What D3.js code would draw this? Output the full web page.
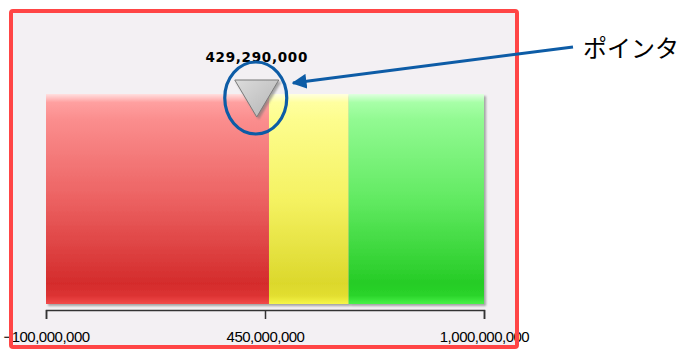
<!DOCTYPE html>
<html><head><meta charset="utf-8">
<script src="https://cdn.jsdelivr.net/npm/d3@7/dist/d3.min.js"></script>
<style>html,body{margin:0;padding:0;background:#fff;}svg{display:block;}</style>
</head><body>
<svg id="c" width="682" height="349"></svg>
<script>
// ---- data ----
const bandNames = ["red", "yellow", "green"];
const bandStarts = [-100000000, 460000000, 660000000];
const bandEnds = [460000000, 660000000, 1000000000];
const tickValues = [-100000000, 450000000, 1000000000];
const pointerValue = 429290000;
const annotationText = "ポインタ";

const bandGrad = {
  red:    [["0%","#ffe0e0"],["4%","#ffa0a0"],["12%","#fb8e8e"],["50%","#ec6262"],["90%","#d42c2c"],["96%","#dc3232"],["100%","#f24a4a"]],
  yellow: [["0%","#ffffe0"],["4%","#ffffa0"],["12%","#fdfd8e"],["50%","#f5f262"],["90%","#dcd82c"],["96%","#e2de30"],["100%","#f6f648"]],
  green:  [["0%","#e0ffe0"],["4%","#a8ffa8"],["12%","#92fa92"],["50%","#62ea62"],["90%","#26cc26"],["96%","#2ad42a"],["100%","#48f248"]]
};

const svg = d3.select("#c");
const defs = svg.append("defs");

// background panel
svg.append("rect").attr("x", 11).attr("y", 11).attr("width", 506).attr("height", 336).attr("fill", "#f3f0f3");

const x = d3.scaleLinear().domain([-100000000, 1000000000]).range([46, 484]);
const barTop = 94, barBottom = 304;

bandNames.forEach(n => {
  const g = defs.append("linearGradient").attr("id", "g-" + n).attr("x1", 0).attr("y1", 0).attr("x2", 0).attr("y2", 1);
  bandGrad[n].forEach(s => g.append("stop").attr("offset", s[0]).attr("stop-color", s[1]));
});
const sh = defs.append("filter").attr("id", "sh").attr("x", "-10%").attr("y", "-10%").attr("width", "130%").attr("height", "130%");
sh.append("feDropShadow").attr("dx", 2).attr("dy", 2).attr("stdDeviation", 1.2).attr("flood-color", "#707070").attr("flood-opacity", 0.6);

const bars = svg.append("g").attr("filter", "url(#sh)");
bars.selectAll("rect").data(bandNames).join("rect")
  .attr("x", (d, i) => x(bandStarts[i]))
  .attr("y", barTop)
  .attr("width", (d, i) => x(bandEnds[i]) - x(bandStarts[i]))
  .attr("height", barBottom - barTop)
  .attr("fill", d => "url(#g-" + d + ")");

// axis
const axis = d3.axisBottom(x).tickValues(tickValues).tickSize(9).tickPadding(12).tickFormat(d3.format(","));
const ag = svg.append("g").attr("transform", "translate(0,310)").call(axis);
ag.select(".domain").attr("stroke", "#333").attr("stroke-width", 1.5);
ag.selectAll(".tick line").attr("stroke", "#333").attr("stroke-width", 1.5);
ag.selectAll(".tick text").attr("font-family", "Liberation Sans, Arial, sans-serif").attr("font-size", 15).attr("fill", "#000").attr("letter-spacing", -0.5);

// pointer
const px = x(pointerValue);
const tg = defs.append("linearGradient").attr("id", "tri").attr("x1", 0).attr("y1", 0).attr("x2", 1).attr("y2", 1);
tg.append("stop").attr("offset", "0%").attr("stop-color", "#dcdcdc");
tg.append("stop").attr("offset", "100%").attr("stop-color", "#b4b4b4");
svg.append("path")
  .attr("d", d3.line()([[px - 22, 80], [px + 22, 80], [px, 117]]) + "Z")
  .attr("fill", "url(#tri)").attr("stroke", "#7a7a7a").attr("stroke-width", 1)
  .attr("filter", "url(#sh)");

svg.append("text").attr("x", px).attr("y", 62).attr("text-anchor", "middle")
  .attr("font-family", "DejaVu Sans, sans-serif").attr("font-weight", "bold").attr("font-size", 13.5)
  .attr("letter-spacing", 0.7).attr("fill", "#000")
  .text(d3.format(",")(pointerValue));

// red frame
svg.append("rect").attr("x", 11).attr("y", 11).attr("width", 506).attr("height", 336).attr("rx", 2)
  .attr("fill", "none").attr("stroke", "#ff4545").attr("stroke-width", 4);

// annotation
const blue = "#0d5ca6";
svg.append("ellipse").attr("cx", px - 1).attr("cy", 98).attr("rx", 31).attr("ry", 36)
  .attr("fill", "none").attr("stroke", blue).attr("stroke-width", 3.2);
defs.append("marker").attr("id", "ah").attr("viewBox", "0 0 10 10").attr("refX", 9).attr("refY", 5)
  .attr("markerWidth", 5).attr("markerHeight", 5).attr("markerUnits", "strokeWidth").attr("orient", "auto")
  .append("path").attr("d", "M0,0L10,5L0,10Z").attr("fill", blue);
svg.append("line").attr("x1", 573).attr("y1", 47).attr("x2", 293).attr("y2", 83)
  .attr("stroke", blue).attr("stroke-width", 3).attr("marker-end", "url(#ah)");
svg.append("text").attr("x", 583).attr("y", 57)
  .attr("font-family", "Noto Sans CJK JP, sans-serif").attr("font-size", 24).attr("fill", "#000")
  .text(annotationText);
</script>
</body></html>
